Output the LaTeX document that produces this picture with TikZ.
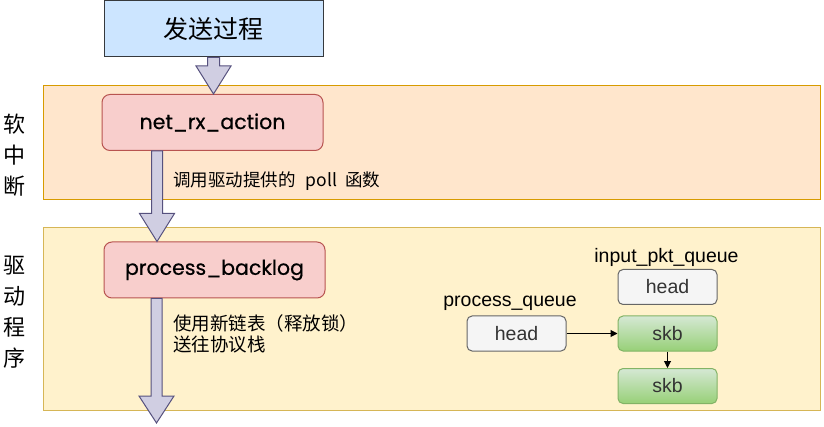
\documentclass[tikz,border=0pt]{standalone}
\usepackage{fontspec}
\setmainfont{Noto Sans CJK SC}
\newfontfamily\cjk{Noto Sans CJK SC}
\newfontfamily\helv{Liberation Sans}
\newfontfamily\roundf[FakeBold=0.6]{Poppins}
\usetikzlibrary{calc,arrows.meta}
\definecolor{blueF}{HTML}{CCE5FF}
\definecolor{blueS}{HTML}{36393D}
\definecolor{orF}{HTML}{FFE6CC}
\definecolor{orS}{HTML}{D79B00}
\definecolor{yeF}{HTML}{FFF2CC}
\definecolor{yeS}{HTML}{D6B656}
\definecolor{redF}{HTML}{F8CECC}
\definecolor{redS}{HTML}{B85450}
\definecolor{arF}{HTML}{D0CEE2}
\definecolor{arS}{HTML}{56517E}
\definecolor{grF}{HTML}{F5F5F5}
\definecolor{grS}{HTML}{666666}
\definecolor{grT}{HTML}{333333}
\definecolor{gnT}{HTML}{D5E8D4}
\definecolor{gnB}{HTML}{97D077}
\definecolor{gnS}{HTML}{82B366}
\tikzset{
  bandbox/.style={draw, line width=1pt, anchor=north west, inner sep=0pt},
  funcbox/.style={draw=redS, fill=redF, line width=1pt, rounded corners=8pt,
    minimum width=221pt, minimum height=56pt, inner sep=0pt,
    font=\roundf\fontsize{20.5}{22}\selectfont},
  headbox/.style={draw=grS, fill=grF, line width=1pt, rounded corners=5pt,
    minimum width=99pt, minimum height=35pt, inner sep=0pt, text=grT,
    font=\helv\fontsize{19.5}{21}\selectfont},
  skbbox/.style={draw=gnS, top color=gnT, bottom color=gnB, line width=1pt, rounded corners=5pt,
    minimum width=99pt, minimum height=35pt, inner sep=0pt, text=grT,
    font=\helv\fontsize{19.5}{21}\selectfont},
  qlabel/.style={inner sep=0pt, font=\helv\fontsize{19.5}{21}\selectfont},
  note/.style={inner sep=0pt, anchor=west, align=left, font=\cjk\fontsize{17.5}{21}\selectfont},
  side/.style={inner sep=0pt, align=center, font=\cjk\fontsize{22}{31}\selectfont},
  barrow/.style={draw=arS, fill=arF, line width=1pt, line join=miter},
  link/.style={draw=black, line width=1pt, -{Triangle[length=7pt,width=7pt]}}
}
% #1 start, #2 tip, #3 shaft half width, #4 head half width, #5 head length
\newcommand\blockdown[5]{%
  \path[barrow] let \p1=#1, \p2=#2 in
    (\x1-#3,\y1) -- (\x1-#3,\y2+#5) -- (\x1-#4,\y2+#5) -- (\x1,\y2)
    -- (\x1+#4,\y2+#5) -- (\x1+#3,\y2+#5) -- (\x1+#3,\y1) -- cycle;}
\begin{document}
\begin{tikzpicture}[x=1pt,y=-1pt]
\useasboundingbox (0,0) rectangle (824,427);
% bands
\node[bandbox, draw=orS, fill=orF, minimum width=777pt, minimum height=114pt] (softband) at (43,85) {};
\node[bandbox, draw=yeS, fill=yeF, minimum width=777pt, minimum height=183pt] (drvband) at (43,227) {};
% side labels
\node[side] (softlbl) at (14,155) {软\\中\\断};
\node[side] (drvlbl) at (14,312) {驱\\动\\程\\序};
% top box
\node[draw=blueS, fill=blueF, line width=1pt, minimum width=219pt, minimum height=56pt,
  inner sep=0pt, font=\cjk\fontsize{25}{27}\selectfont] (send) at (213.5,29) {发送过程};
% function nodes
\node[funcbox] (net) at (212.5,122.5) {net\_rx\_action};
\node[funcbox] (pb) at (214.5,270) {process\_backlog};
% block arrows
\coordinate (a2s) at ($(net.south west)+(55.5,0)$);
\coordinate (a3s) at ($(pb.south west)+(53,0)$);
\coordinate (out) at (157,423);
\blockdown{(send.south)}{(net.north)}{6pt}{17.5pt}{28pt}
\blockdown{(a2s)}{(a2s |- pb.north)}{5.5pt}{17.5pt}{28pt}
\blockdown{(a3s)}{(out)}{5.5pt}{17.5pt}{27pt}
% notes
\node[note] (n1) at (173,181) {调用驱动提供的\hspace{10pt}poll\hspace{8pt}函数};
\node[note, font=\cjk\fontsize{18.5}{21}\selectfont] (n2) at (173,334) {使用新链表（释放锁）\\送往协议栈};
% queues
\node[qlabel] (iq) at (666.5,257) {input\_pkt\_queue};
\node[headbox] (ih) at (667.5,287) {head};
\node[skbbox] (s1) at (667.5,333.5) {skb};
\node[skbbox] (s2) at (667.5,386) {skb};
\node[qlabel] (pq) at (510,303) {process\_queue};
\node[headbox] (ph) at (516.5,333.5) {head};
\draw[link] (ph.east) -- (s1.west);
\draw[link] (s1.south) -- (s2.north);
\end{tikzpicture}
\end{document}
